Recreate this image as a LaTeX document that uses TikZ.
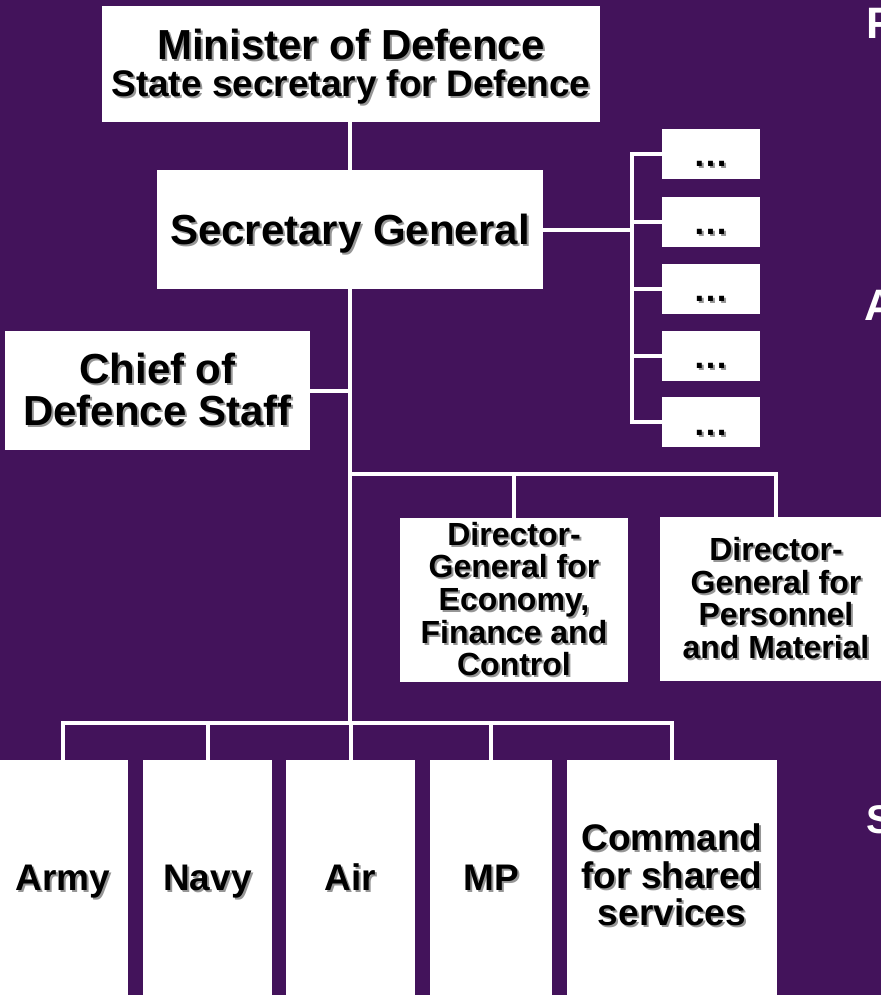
\documentclass[tikz,border=0pt]{standalone}
\usepackage{fontspec}
\setmainfont{Liberation Sans}
\definecolor{bgpurple}{RGB}{67,19,91}
\definecolor{shadowgray}{RGB}{150,150,150}
% text with a soft grey drop shadow
\newcommand\sh[1]{\leavevmode\rlap{\kern2pt\raisebox{-2pt}{\textcolor{shadowgray}{#1}}}#1}

\begin{document}
\begin{tikzpicture}[x=1pt,y=-1pt,
  box/.style={fill=white, inner sep=0pt, align=center, text=black},
  link/.style={draw=white, line width=4pt},
  big/.style={font=\bfseries\fontsize{42}{42}\selectfont},
  mid/.style={font=\bfseries\fontsize{32}{32.6}\selectfont},
  unit/.style={box, minimum height=240pt, font=\bfseries\fontsize{37}{37.5}\selectfont},
  single/.style={text height=27pt, text depth=7pt},
  dotbox/.style={box, minimum width=98pt, minimum height=50pt,
                 font=\bfseries\fontsize{35}{35}\selectfont, text height=26pt, text depth=0pt},
  edge/.style={text=white, anchor=base west, inner sep=0pt, font=\bfseries}
]
\clip (0,0) rectangle (881,995);
\fill[bgpurple] (0,0) rectangle (881,995);

% top of the hierarchy
\node[box, minimum width=498pt, minimum height=116pt,
      font=\bfseries\fontsize{42}{39}\selectfont] (minister) at (351,64)
  {\rule{0pt}{37pt}\sh{Minister of Defence}\\[-2pt]\fontsize{37}{39}\selectfont\sh{State secretary for Defence}};
\node[box, big, text height=30.7pt, text depth=0pt, minimum width=386pt, minimum height=119pt] (sg) at (350,229.5)
  {\sh{Secretary General}};
\node[box, big, minimum width=305pt, minimum height=119pt] (cds) at (157.5,390.5)
  {\sh{Chief of}\\\sh{Defence Staff}};

% staff boxes beside the secretary general
\foreach \i/\y in {1/154,2/221.5,3/288.5,4/355.5,5/422}
  \node[dotbox] (d\i) at (711,\y) {\sh{…}};

% directors-general
\node[box, mid, minimum width=228pt, minimum height=164pt] (dg1) at (514,600)
  {\sh{Director-}\\\sh{General for}\\\sh{Economy,}\\\sh{Finance and}\\\sh{Control}};
\node[box, mid, minimum width=232pt, minimum height=164pt] (dg2) at (776,599)
  {\sh{Director-}\\\sh{General for}\\\sh{Personnel}\\\sh{and Material}};

% operational commands
\node[unit, single, minimum width=130pt] (army) at (63,880) {\sh{Army}};
\node[unit, single, minimum width=129pt] (navy) at (207.5,880) {\sh{Navy}};
\node[unit, single, minimum width=129pt] (air)  at (350.5,880) {\sh{Air}};
\node[unit, single, minimum width=122pt] (mp)   at (491,880) {\sh{MP}};
\node[unit, minimum width=210pt] (cmd) at (672,880)
  {\sh{Command}\\\sh{for shared}\\\sh{services}\rule[-10pt]{0pt}{10pt}};

% labels running in from the right edge
\node[edge, font=\bfseries\fontsize{44}{44}\selectfont] (fr) at (866,39) {F};
\node[edge, font=\bfseries\fontsize{44}{44}\selectfont] (ar) at (864,320) {A};
\node[edge, font=\bfseries\fontsize{40}{40}\selectfont] (sr) at (866,833) {S};

% connectors
\coordinate (fan) at (632,0);
\coordinate (dgbar) at (0,474);
\coordinate (bar) at (0,723);

\draw[link] (sg.north |- minister.south) -- (sg.north);
\draw[link] (sg.east) -- (sg.east -| fan);
\draw[link] (d1.west) -- (fan |- d1.west) -- (fan |- d5.west) -- (d5.west);
\foreach \i in {2,3,4}
  \draw[link] (fan |- d\i.west) -- (d\i.west);

\draw[link] (sg.south) -- (sg.south |- bar);
\draw[link] (cds.east) -- (cds.east -| sg.south);

\draw[link] (sg.south |- dgbar) -| (dg2.north);
\draw[link] (dg1.north |- dgbar) -- (dg1.north);

\draw[link] (army.north) |- (cmd.north |- bar) -- (cmd.north);
\foreach \n in {navy,air,mp}
  \draw[link] (\n.north |- bar) -- (\n.north);
\end{tikzpicture}
\end{document}
